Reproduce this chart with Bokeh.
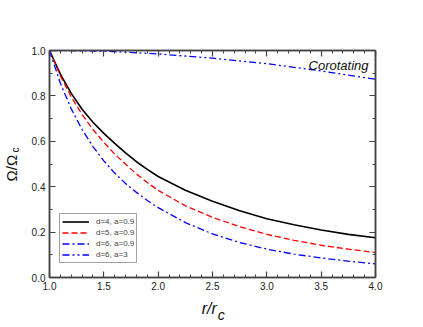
import math
from bokeh.plotting import figure
from bokeh.models import (Range1d, LinearAxis, SingleIntervalTicker, FixedTicker, NumeralTickFormatter,
                          CustomJSTickFormatter, Label, Legend, LegendItem)
from bokeh.embed import file_html
from bokeh.resources import INLINE

# data
r = [1.0, 1.1, 1.2, 1.3, 1.4, 1.5, 1.6, 1.7, 1.8, 1.9, 2.0, 2.25, 2.5, 2.75, 3.0, 3.25, 3.5, 3.75, 4.0]
om_d4_a09 = [1.0, 0.896, 0.811, 0.741, 0.684, 0.635, 0.591, 0.549, 0.510, 0.476, 0.445, 0.384, 0.336, 0.294, 0.259, 0.232, 0.209, 0.190, 0.175]
om_d5_a09 = [1.0, 0.888, 0.796, 0.718, 0.652, 0.595, 0.544, 0.499, 0.456, 0.418, 0.384, 0.316, 0.265, 0.224, 0.190, 0.164, 0.142, 0.125, 0.110]
om_d6_a09 = [1.0, 0.856, 0.743, 0.652, 0.577, 0.514, 0.460, 0.414, 0.375, 0.339, 0.308, 0.242, 0.192, 0.154, 0.125, 0.103, 0.086, 0.072, 0.060]
r_d6_a3 = [1.0, 1.25, 1.5, 2.0, 2.5, 3.0, 3.5, 4.0]
om_d6_a3 = [1.0, 0.999, 0.997, 0.985, 0.966, 0.942, 0.91, 0.873]
labels = ["d=4, a=0.9", "d=5, a=0.9", "d=6, a=0.9", "d=6, a=3"]
x_title = ("r/r", "c")      # r/r with subscript c
y_title = ("Ω/Ω", "c")      # Ω/Ω with subscript c

FONT = "Liberation Sans"
AX = "#444444"
TXT = "#111111"

p = figure(width=415, height=325, output_backend="svg", toolbar_location=None,
           x_range=Range1d(1.0, 4.0), y_range=Range1d(0.0, 1.0),
           min_border_left=49, min_border_right=40, min_border_top=50, min_border_bottom=48)
p.xgrid.visible = False
p.ygrid.visible = False
p.outline_line_color = AX
p.outline_line_width = 1.5
p.background_fill_color = "white"
p.border_fill_color = "white"

def style_axis(ax, show_labels):
    ax.axis_label = None
    ax.axis_line_color = AX
    ax.axis_line_width = 1.5
    ax.major_tick_line_color = AX
    ax.minor_tick_line_color = AX
    ax.major_tick_in = 6
    ax.major_tick_out = 0
    ax.minor_tick_in = 3
    ax.minor_tick_out = 0
    ax.major_tick_line_width = 1.2
    ax.minor_tick_line_width = 1
    if show_labels:
        ax.formatter = NumeralTickFormatter(format="0.0")
        ax.major_label_text_font = FONT
        ax.major_label_text_font_size = "10px"
        ax.major_label_text_color = "#222222"
        ax.major_label_standoff = 4
    else:
        ax.formatter = CustomJSTickFormatter(code="return ''")
        ax.major_label_standoff = 0

p.xaxis.ticker = SingleIntervalTicker(interval=0.5, num_minor_ticks=5)
p.yaxis.ticker = SingleIntervalTicker(interval=0.2, num_minor_ticks=2)
style_axis(p.xaxis[0], True)
style_axis(p.yaxis[0], True)
top = LinearAxis(ticker=SingleIntervalTicker(interval=0.5, num_minor_ticks=5))
right = LinearAxis(ticker=SingleIntervalTicker(interval=0.2, num_minor_ticks=2))
style_axis(top, False)
style_axis(right, False)
p.add_layout(top, "above")
p.add_layout(right, "right")

def text_axis(pos, txt, size, standoff, italic, orientation=None):
    ax = LinearAxis(ticker=FixedTicker(ticks=[pos], minor_ticks=[]),
                    major_label_overrides={pos: txt})
    ax.axis_label = None
    ax.axis_line_color = None
    ax.major_tick_line_color = None
    ax.minor_tick_line_color = None
    ax.major_tick_in = 0
    ax.major_tick_out = 0
    ax.minor_tick_in = 0
    ax.minor_tick_out = 0
    ax.major_label_standoff = standoff
    ax.major_label_text_font = FONT
    ax.major_label_text_font_size = size
    ax.major_label_text_color = TXT
    if italic:
        ax.major_label_text_font_style = "italic"
    if orientation is not None:
        ax.major_label_orientation = orientation
    return ax

# y title: subscript "c" row next to the tick labels, then "Ω/Ω" pulled in beside it
p.add_layout(text_axis(0.562, y_title[1], "10px", 7, False, orientation="vertical"), "left")
p.add_layout(text_axis(0.482, y_title[0], "15px", -13, False, orientation="vertical"), "left")
# x title: "r/r" row, then subscript "c" row pulled up
p.add_layout(text_axis(2.47, x_title[0], "16px", 7, True), "below")
p.add_layout(text_axis(2.58, x_title[1], "14px", -13, True), "below")

l1 = p.line(r, om_d4_a09, line_color="black", line_width=1.6)
l2 = p.line(r, om_d5_a09, line_color="#ff0000", line_width=1.3, line_dash="6 3")
l3 = p.line(r, om_d6_a09, line_color="#0000ff", line_width=1.3, line_dash="7 3 2 3")
l4 = p.line(r_d6_a3, om_d6_a3, line_color="#0000ff", line_width=1.3, line_dash="7 3 2 3 2 3")

legend = Legend(items=[LegendItem(label=labels[0], renderers=[l1]),
                       LegendItem(label=labels[1], renderers=[l2]),
                       LegendItem(label=labels[2], renderers=[l3]),
                       LegendItem(label=labels[3], renderers=[l4])],
                location=(10, 14), padding=2, spacing=0, margin=0,
                glyph_width=27, glyph_height=11, label_height=11, label_standoff=7,
                label_text_font=FONT, label_text_font_size="8px",
                border_line_color=AX, border_line_width=1.2,
                background_fill_alpha=1.0)
p.add_layout(legend, "center")

p.add_layout(Label(x=319, y=212, x_units="screen", y_units="screen", text="Corotating",
                   text_align="right", text_baseline="alphabetic", text_font=FONT,
                   text_font_style="italic", text_font_size="13px", text_color=TXT))

open("out.html", "w").write(file_html(p, INLINE))
